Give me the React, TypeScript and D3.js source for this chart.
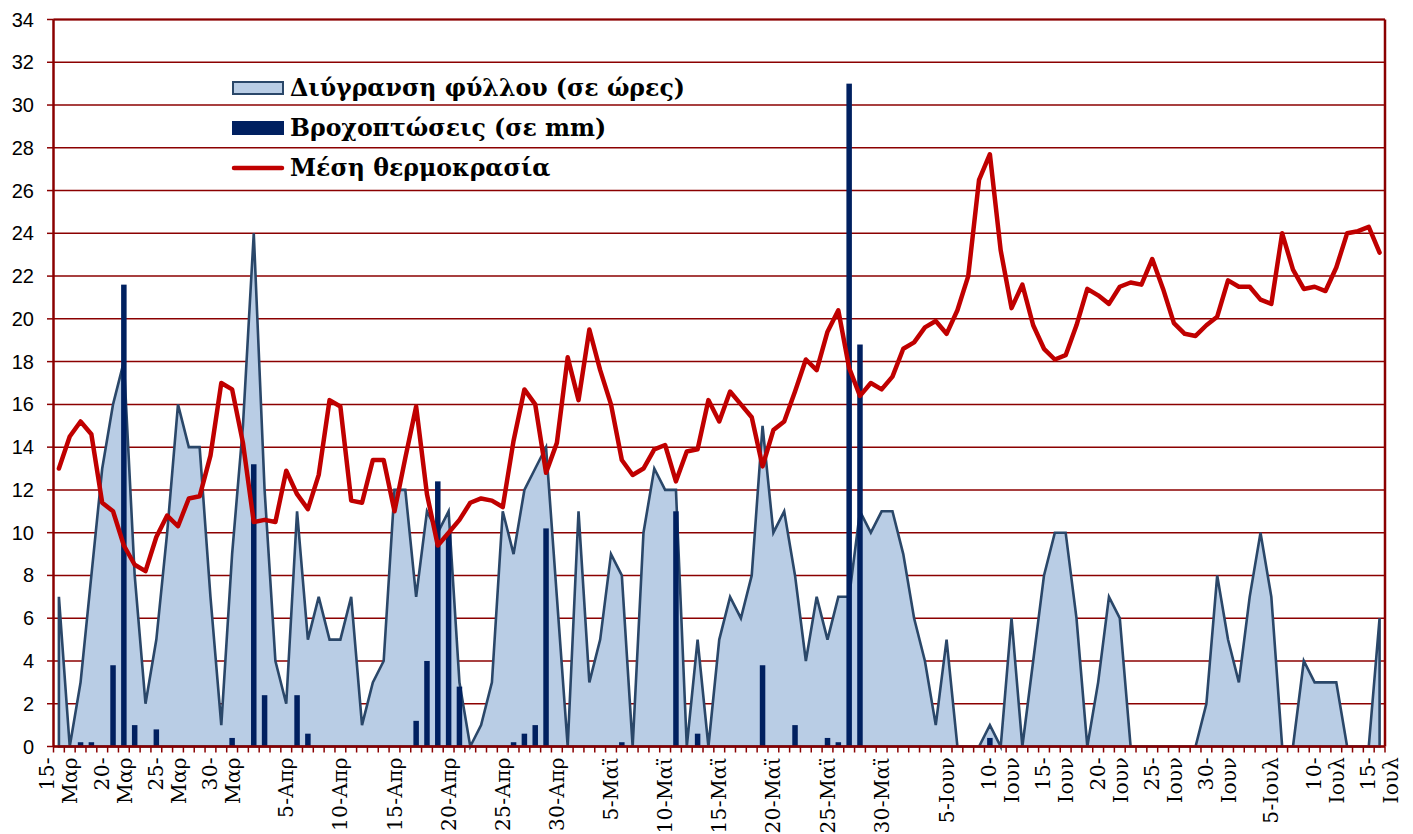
import React from 'react';
import * as d3 from 'd3';

// ---- Data (one value per day, 15 Mar – 15 Jul) ----
const startDay = new Date(2011, 2, 15);
const endDay = new Date(2011, 6, 16);

const leafWetness = [
  7, 0, 3, 8, 13, 16, 18, 8, 2, 5,
  10, 16, 14, 14, 7, 1, 9, 15, 24, 12,
  4, 2, 11, 5, 7, 5, 5, 7, 1, 3,
  4, 12, 12, 7, 11, 10, 11, 3, 0, 1,
  3, 11, 9, 12, 13, 14, 7, 0, 11, 3,
  5, 9, 8, 0, 10, 13, 12, 12, 0, 5,
  0, 5, 7, 6, 8, 15, 10, 11, 8, 4,
  7, 5, 7, 7, 11, 10, 11, 11, 9, 6,
  4, 1, 5, 0, 0, 0, 1, 0, 6, 0,
  4, 8, 10, 10, 6, 0, 3, 7, 6, 0,
  0, 0, 0, 0, 0, 0, 2, 8, 5, 3,
  7, 10, 7, 0, 0, 4, 3, 3, 3, 0,
  0, 0, 6,
];

const rainfall = [
  0, 0, 0.2, 0.2, 0, 3.8, 21.6, 1.0, 0, 0.8,
  0, 0, 0, 0, 0, 0, 0.4, 0, 13.2, 2.4,
  0, 0, 2.4, 0.6, 0, 0, 0, 0, 0, 0,
  0, 0, 0, 1.2, 4.0, 12.4, 10.0, 2.8, 0, 0,
  0, 0, 0.2, 0.6, 1.0, 10.2, 0, 0, 0, 0,
  0, 0, 0.2, 0, 0, 0, 0, 11.0, 0, 0.6,
  0, 0, 0, 0, 0, 3.8, 0, 0, 1.0, 0,
  0, 0.4, 0.2, 31.0, 18.8, 0, 0, 0, 0, 0,
  0, 0, 0, 0, 0, 0, 0.4, 0, 0, 0,
  0, 0, 0, 0, 0, 0, 0, 0, 0, 0,
  0, 0, 0, 0, 0, 0, 0, 0, 0, 0,
  0, 0, 0, 0, 0, 0, 0, 0, 0, 0,
  0, 0, 0,
];

const meanTemp = [
  13.0, 14.5, 15.2, 14.6, 11.4, 11.0, 9.4, 8.5, 8.2, 9.8,
  10.8, 10.3, 11.6, 11.7, 13.6, 17.0, 16.7, 14.2, 10.5, 10.6,
  10.5, 12.9, 11.8, 11.1, 12.7, 16.2, 15.9, 11.5, 11.4, 13.4,
  13.4, 11.0, 13.5, 15.9, 11.8, 9.4, 10.0, 10.6, 11.4, 11.6,
  11.5, 11.2, 14.3, 16.7, 16.0, 12.8, 14.2, 18.2, 16.2, 19.5,
  17.6, 16.0, 13.4, 12.7, 13.0, 13.9, 14.1, 12.4, 13.8, 13.9,
  16.2, 15.2, 16.6, 16.0, 15.4, 13.1, 14.8, 15.2, 16.6, 18.1,
  17.6, 19.4, 20.4, 17.7, 16.4, 17.0, 16.7, 17.3, 18.6, 18.9,
  19.6, 19.9, 19.3, 20.4, 22.0, 26.5, 27.7, 23.2, 20.5, 21.6,
  19.7, 18.6, 18.1, 18.3, 19.7, 21.4, 21.1, 20.7, 21.5, 21.7,
  21.6, 22.8, 21.4, 19.8, 19.3, 19.2, 19.7, 20.1, 21.8, 21.5,
  21.5, 20.9, 20.7, 24.0, 22.3, 21.4, 21.5, 21.3, 22.4, 24.0,
  24.1, 24.3, 23.1,
];

const tickDates = [
  '2011-03-15', '2011-03-20', '2011-03-25', '2011-03-30', '2011-04-05',
  '2011-04-10', '2011-04-15', '2011-04-20', '2011-04-25', '2011-04-30',
  '2011-05-05', '2011-05-10', '2011-05-15', '2011-05-20', '2011-05-25',
  '2011-05-30', '2011-06-05', '2011-06-10', '2011-06-15', '2011-06-20',
  '2011-06-25', '2011-06-30', '2011-07-05', '2011-07-10', '2011-07-15',
];
const tickLabels = [
  ['15-', 'Μαρ'], ['20-', 'Μαρ'], ['25-', 'Μαρ'], ['30-', 'Μαρ'], ['5-Απρ'],
  ['10-Απρ'], ['15-Απρ'], ['20-Απρ'], ['25-Απρ'], ['30-Απρ'],
  ['5-Μαϊ'], ['10-Μαϊ'], ['15-Μαϊ'], ['20-Μαϊ'], ['25-Μαϊ'],
  ['30-Μαϊ'], ['5-Ιουν'], ['10-', 'Ιουν'], ['15-', 'Ιουν'], ['20-', 'Ιουν'],
  ['25-', 'Ιουν'], ['30-', 'Ιουν'], ['5-Ιουλ'], ['10-', 'Ιουλ'], ['15-', 'Ιουλ'],
];

const yTicks = d3.range(0, 35, 2);
const legendLabels = ['Διύγρανση φύλλου (σε ώρες)', 'Βροχοπτώσεις (σε mm)', 'Μέση θερμοκρασία'];

const W = 1413;
const H = 834;
const PL = 53.5, PR = 1385, PT = 19.5, PB = 746.5;

const GRID = '#8B0000';
const AREA_FILL = '#B9CDE5';
const AREA_STROKE = '#2A4769';
const BAR = '#002060';
const LINE = '#C00000';

export default function App() {
  const days = d3.timeDay.range(startDay, endDay);
  const idx = d3.range(days.length);
  const x = d3.scaleBand<number>().domain(idx).range([PL, PR]).padding(0);
  const cx = (i: number) => (x(i) as number) + x.bandwidth() / 2;
  const y = d3.scaleLinear().domain([0, 34]).range([PB, PT]);

  const area = d3.area<number>().x((d, i) => cx(i)).y0(y(0)).y1((d) => y(d));
  const line = d3.line<number>().x((d, i) => cx(i)).y((d) => y(d));
  const parse = d3.timeParse('%Y-%m-%d');
  const barW = 5.5;

  return (
    <svg width={W} height={H} style={{ position: 'absolute', left: 0, top: 0, background: '#fff' }}>
      {/* gridlines */}
      {yTicks.map((t) => (
        <line key={'g' + t} x1={PL} x2={PR} y1={y(t)} y2={y(t)} stroke={GRID} strokeWidth={1.5} />
      ))}
      {/* area */}
      <path d={area(leafWetness) || ''} fill={AREA_FILL} stroke={AREA_STROKE} strokeWidth={2.6} strokeLinejoin="miter" />
      {/* bars */}
      {rainfall.map((v, i) =>
        v > 0 ? (
          <rect key={'b' + i} x={cx(i) - barW / 2} y={y(v)} width={barW} height={y(0) - y(v)} fill={BAR} />
        ) : null
      )}
      {/* temperature line */}
      <path d={line(meanTemp) || ''} fill="none" stroke={LINE} strokeWidth={4.5} strokeLinejoin="round" strokeLinecap="round" />
      {/* frame */}
      <line x1={PL} x2={PR} y1={PT} y2={PT} stroke={GRID} strokeWidth={2} />
      <line x1={PR} x2={PR} y1={PT} y2={PB} stroke={GRID} strokeWidth={2.5} />
      <line x1={PL} x2={PR} y1={PB} y2={PB} stroke={GRID} strokeWidth={2.5} />
      <line x1={PL} x2={PL} y1={PT} y2={PB} stroke={GRID} strokeWidth={2.5} />
      {/* y ticks */}
      {yTicks.map((t) => (
        <g key={'yt' + t}>
          <line x1={PL - 6.5} x2={PL} y1={y(t)} y2={y(t)} stroke={GRID} strokeWidth={1.5} />
          <text x={34} y={y(t)} dy="0.35em" textAnchor="end" fontFamily="Liberation Sans, Arial, sans-serif" fontSize={20} fill="#000">
            {t}
          </text>
        </g>
      ))}
      {/* x ticks */}
      {d3.range(days.length + 1).map((i) => {
        const xx = PL + i * x.bandwidth();
        return <line key={'xt' + i} x1={xx} x2={xx} y1={PB} y2={PB + 6} stroke={GRID} strokeWidth={1.5} />;
      })}
      {tickDates.map((ds, k) => {
        const i = d3.timeDay.count(startDay, parse(ds) as Date);
        const lines = tickLabels[k];
        const n = lines.length;
        const spacing = 23;
        return (
          <g key={'xl' + k} transform={`translate(${cx(i)},${757}) rotate(-90)`}>
            {lines.map((s, j) => (
              <text key={j} x={0} y={(j - (n - 1) / 2) * spacing} dy="0.35em" textAnchor="end" fontFamily="DejaVu Serif, serif" fontSize={20.2} letterSpacing={0.3} fill="#000">
                {s}
              </text>
            ))}
          </g>
        );
      })}
      {/* legend */}
      {legendLabels.map((lab, k) => {
        const cy = 88 + k * 40;
        return (
          <g key={'lg' + k}>
            {k === 0 && <rect x={233} y={cy - 6} width={50} height={12} fill={AREA_FILL} stroke={AREA_STROKE} strokeWidth={2} />}
            {k === 1 && <rect x={232} y={cy - 7} width={52} height={14} fill={BAR} />}
            {k === 2 && <line x1={234} x2={282} y1={cy} y2={cy} stroke={LINE} strokeWidth={4.5} strokeLinecap="round" />}
            <text x={290} y={cy} dy="0.35em" fontFamily="DejaVu Serif, serif" fontWeight="bold" fontSize={23.6} fill="#000">
              {lab}
            </text>
          </g>
        );
      })}
    </svg>
  );
}
